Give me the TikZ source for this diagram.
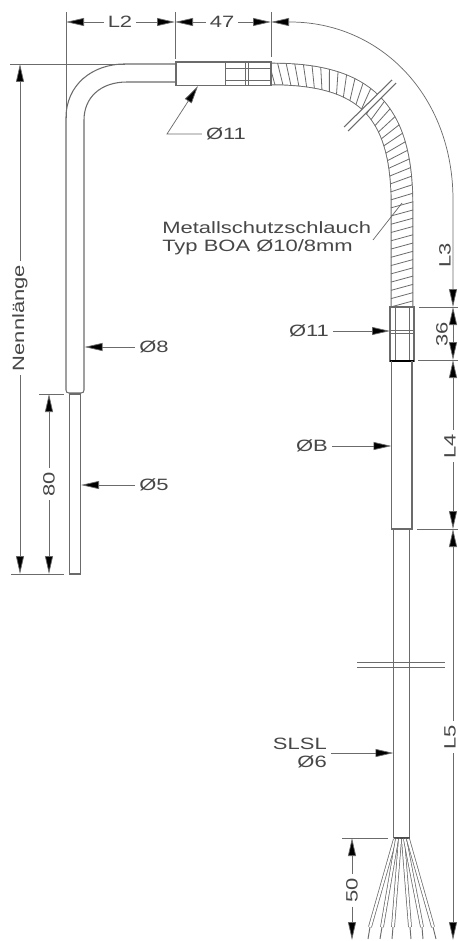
\documentclass[tikz,border=0pt]{standalone}
\usepackage{fontspec}
\setmainfont{Liberation Sans}
\usetikzlibrary{arrows.meta,decorations.markings}
\definecolor{lncol}{gray}{0.42}
\definecolor{lbcol}{gray}{0.28}
\newcommand{\widetxt}[1]{\scalebox{1.34}[1]{#1}}
\tikzset{
  part/.style={draw=lncol,line width=0.8pt},
  rib/.style={draw=lncol,line width=0.6pt},
  dim/.style={draw=lncol,line width=0.55pt},
  dimarrow/.style={dim,-{Stealth[length=13.5pt,width=6pt,inset=0pt,fill=black]}},
  dimboth/.style={dim,{Stealth[length=13.5pt,width=6pt,inset=0pt,fill=black]}-{Stealth[length=13.5pt,width=6pt,inset=0pt,fill=black]}},
  lbl/.style={text=lbcol,font=\fontsize{12.3}{14}\selectfont,inner sep=3pt}
}
\begin{document}
\begin{tikzpicture}[x=0.75pt,y=-0.75pt]
\useasboundingbox (0,0) rectangle (458,941);

% Hose
\draw[draw=lncol,line width=0.7pt,double=white,double distance=15.5pt,
  postaction={decorate,decoration={markings,
    mark=between positions 0 and 1 step 6.2pt with {\draw[rib] (-3,-11) -- (3,11);}}}]
  (272,74) .. controls (365,74) and (402,110) .. (402,205) -- (402,307);

% Break in the hose
\fill[white] (344,127) -- (392,80) -- (396,83) -- (348,131) -- cycle;
\draw[part] (344,127) -- (392,80);
\draw[part] (348,131) -- (396,83);

% Bent tube
\draw[part] (176,64) -- (125,64) .. controls (92,64) and (66,85) .. (66,118) -- (66,390)
  .. controls (66,392) and (67,393) .. (69,393) -- (81,393) .. controls (83,393) and (84,392) .. (84,390)
  -- (84,120) .. controls (84,98) and (100,82) .. (127,82) -- (176,82);
\draw[part] (69.5,394) rectangle (80.5,574);

% Upper fitting
\draw[part,fill=white] (176,62) rectangle (271,85.5);
\draw[draw=lncol,line width=1.6pt] (176,64) -- (176,84);
\draw[rib] (225,62) -- (225,85.5);
\draw[rib] (225,68) -- (271,68);
\draw[rib] (225,80) -- (271,80);
\draw[rib] (245,62) -- (245,85.5);
\draw[rib] (248,62) -- (248,85.5);

% Lower fitting
\draw[part,fill=white] (390,307) rectangle (414,361);
\draw[rib] (395,307) -- (395,361);
\draw[rib] (409,307) -- (409,361);
\draw[rib] (390,330) -- (414,330);
\draw[rib] (390,333) -- (414,333);
\draw[draw=black,line width=1.5pt] (390,361) -- (414,361);

% Sleeve and cable
\draw[part] (391.5,361) -- (391.5,529) -- (412,529) -- (412,361);
\draw[part] (393.5,529) -- (393.5,838);
\draw[part] (409.5,529) -- (409.5,838);
\draw[draw=black!70,line width=1.2pt] (393.5,838) -- (409.5,838);

% Break in the cable
\draw[dim] (357,662) -- (445,662);
\draw[dim] (357,667) -- (445,667);

% Wires
\foreach \xs/\xa/\xb in {395/370/368,397/382/380,400/393/392,403/410/411,405/422/423,408/433/436} {
  \draw[draw=lncol,line width=0.55pt,double=white,double distance=1.7pt] (\xs,839) -- (\xa,927);
  \draw[draw=lncol,line width=0.7pt] (\xa,927) -- (\xb,939);
}

% Extension lines
\draw[dim] (66,12) -- (66,118);
\draw[dim] (175,12) -- (175,59);
\draw[dim] (271,12) -- (271,57);
\draw[dim] (10,64) -- (125,64);
\draw[dim] (39,394) -- (64,394);
\draw[dim] (11,574) -- (64,574);
\draw[dim] (419,307) -- (458,307);
\draw[dim] (418,360) -- (458,360);
\draw[dim] (417,529) -- (458,529);
\draw[dim] (342,838) -- (388,838);

% L2 and 47
\node[lbl] (lblLtwo) at (120,22) {\widetxt{L2}};
\node[lbl] (lblFortyseven) at (222,22) {\widetxt{47}};
\coordinate (dimA) at (66,22);
\coordinate (dimB) at (175,22);
\coordinate (dimC) at (271,22);
\draw[dimarrow] (lblLtwo) -- (dimA);
\draw[dimarrow] (lblLtwo) -- (dimB);
\draw[dimarrow] (lblFortyseven) -- (dimB);
\draw[dimarrow] (lblFortyseven) -- (dimC);

% L3 along the arc, then 36
\coordinate (dimD) at (453,307);
\coordinate (dimE) at (453,360);
\coordinate (dimF) at (453,529);
\coordinate (dimG) at (453,940);
\draw[dimboth] (dimC) -- (290,22) .. controls (380,22) and (453,95) .. (453,200) -- (dimD);
\node[lbl,rotate=90] (lblLthree) at (445,255) {\widetxt{L3}};
\node[lbl,rotate=90] (lblThirtysix) at (442,334) {\widetxt{36}};
\draw[dimboth] (dimD) -- (dimE);

% L4 and L5
\node[lbl,rotate=90] (lblLfour) at (450,446) {\widetxt{L4}};
\node[lbl,rotate=90] (lblLfive) at (450,737) {\widetxt{L5}};
\draw[dimarrow] (lblLfour.east -| dimE) -- (dimE);
\draw[dimarrow] (lblLfour.west -| dimE) -- (dimF);
\draw[dimarrow] (lblLfive.east -| dimE) -- (dimF);
\draw[dimarrow] (lblLfive.west -| dimE) -- (dimG);

% 50
\node[lbl,rotate=90] (lblFifty) at (352,890) {\widetxt{50}};
\coordinate (dimH) at (352,838);
\coordinate (dimI) at (352,940);
\draw[dimarrow] (lblFifty) -- (dimH);
\draw[dimarrow] (lblFifty) -- (dimI);

% Nennlaenge and 80
\node[lbl,rotate=90] (lblNenn) at (20,318) {\widetxt{Nennlänge}};
\node[lbl,rotate=90] (lblEighty) at (49,484) {\widetxt{80}};
\coordinate (dimJ) at (20,64);
\coordinate (dimK) at (20,574);
\coordinate (dimL) at (49,394);
\coordinate (dimM) at (49,574);
\draw[dimarrow] (lblNenn) -- (dimJ);
\draw[dimarrow] (lblNenn) -- (dimK);
\draw[dimarrow] (lblEighty) -- (dimL);
\draw[dimarrow] (lblEighty) -- (dimM);

% Diameters on the left
\node[lbl] (lblDeight) at (154,347) {\widetxt{Ø8}};
\node[lbl] (lblDfive) at (154,485) {\widetxt{Ø5}};
\coordinate (tipDeight) at (84.5,347);
\coordinate (tipDfive) at (81,485);
\draw[dimarrow] (lblDeight) -- (tipDeight);
\draw[dimarrow] (lblDfive) -- (tipDfive);

% Upper fitting callout
\node[lbl] (lblDtop) at (226,134) {\widetxt{Ø11}};
\coordinate (kneeDtop) at (167,134);
\coordinate (tipDtop) at (198,86);
\draw[dimarrow] (lblDtop) -- (kneeDtop) -- (tipDtop);

% Diameters on the right
\node[lbl] (lblDlow) at (309,331) {\widetxt{Ø11}};
\node[lbl] (lblDb) at (312,446) {\widetxt{ØB}};
\node[lbl,anchor=east,inner sep=0pt] (lblSlsl) at (327,744) {\widetxt{SLSL}};
\node[lbl,anchor=east,inner sep=0pt] (lblDsix) at (327,762) {\widetxt{Ø6}};
\coordinate (tailSlsl) at (331,753);
\coordinate (tipDlow) at (390,331);
\coordinate (tipDb) at (391.5,446);
\coordinate (tipSlsl) at (393.5,753);
\draw[dimarrow] (lblDlow) -- (tipDlow);
\draw[dimarrow] (lblDb) -- (tipDb);
\draw[dimarrow] (tailSlsl) -- (tipSlsl);

% Hose callout
\node[lbl,anchor=west,inner sep=0pt] (lblHose) at (162,228) {\widetxt{Metallschutzschlauch}};
\node[lbl,anchor=west,inner sep=0pt] (lblBoa) at (162,247) {\widetxt{Typ BOA Ø10/8mm}};
\coordinate (tailHose) at (373,240);
\coordinate (tipHose) at (402,203);
\draw[dim] (tailHose) -- (tipHose);
\end{tikzpicture}
\end{document}
